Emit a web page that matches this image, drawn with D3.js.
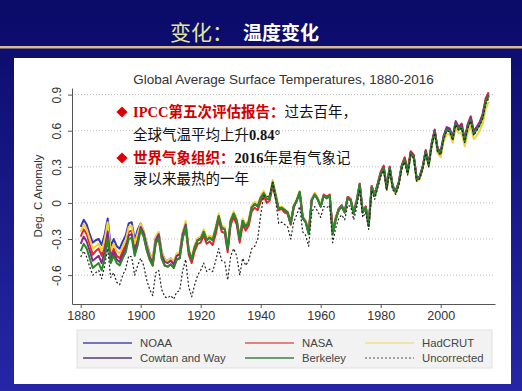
<!DOCTYPE html>
<html lang="zh">
<head>
<meta charset="UTF-8" />
<title>变化：温度变化</title>
<script src="https://d3js.org/d3.v7.min.js"></script>
<style>
  body { margin: 0; background: #0b0b6b; }
  svg text { font-family: "Liberation Sans", Arial, sans-serif; }
  .axis path, .axis line { stroke: #555; }
  .axis text { fill: #333; font-size: 12.5px; font-family: "Liberation Sans", Arial, sans-serif; }
  .grid { stroke: #bbb; stroke-dasharray: 1,2; }
  .legend-text { font-size: 11.3px; fill: #444; }
  .note { font-family: "Liberation Serif", "Noto Sans CJK SC", serif; font-size: 14.5px; }
</style>
</head>
<body>
<div id="chart"></div>
<script>
// years 1880-2016
const years = d3.range(1880, 2017);

// anomaly, deg C
const noaa = [
  -0.20,-0.14,-0.18,-0.26,-0.33,-0.31,-0.30,-0.35,-0.26,-0.13,
  -0.36,-0.30,-0.36,-0.38,-0.32,-0.27,-0.17,-0.16,-0.31,-0.22,
  -0.17,-0.24,-0.34,-0.42,-0.47,-0.29,-0.25,-0.41,-0.47,-0.48,
  -0.46,-0.49,-0.43,-0.42,-0.25,-0.17,-0.39,-0.46,-0.36,-0.30,
  -0.29,-0.23,-0.30,-0.28,-0.30,-0.21,-0.11,-0.20,-0.21,-0.37,
  -0.15,-0.09,-0.14,-0.29,-0.14,-0.19,-0.15,-0.03,-0.01,-0.02,
  0.04,0.07,0.03,0.04,0.15,0.05,-0.05,-0.04,-0.06,-0.09,
  -0.18,-0.03,0.02,0.09,-0.13,-0.16,-0.25,0.03,0.07,0.03,
  -0.03,0.06,0.05,0.06,-0.24,-0.13,-0.05,-0.02,-0.07,0.05,
  0.03,-0.08,0.02,0.16,-0.07,-0.03,-0.17,0.14,0.07,0.16,
  0.25,0.30,0.13,0.30,0.14,0.10,0.17,0.31,0.37,0.26,
  0.42,0.39,0.20,0.22,0.30,0.43,0.32,0.50,0.60,0.44,
  0.41,0.54,0.61,0.60,0.54,0.66,0.62,0.63,0.52,0.63,
  0.70,0.57,0.62,0.66,0.73,0.85,0.89
];
const nasa = [
  -0.28,-0.22,-0.26,-0.34,-0.43,-0.40,-0.38,-0.44,-0.34,-0.20,
  -0.44,-0.38,-0.44,-0.46,-0.40,-0.35,-0.24,-0.23,-0.38,-0.29,
  -0.22,-0.28,-0.39,-0.47,-0.52,-0.34,-0.29,-0.46,-0.52,-0.53,
  -0.51,-0.54,-0.47,-0.46,-0.29,-0.21,-0.43,-0.50,-0.40,-0.34,
  -0.33,-0.27,-0.34,-0.32,-0.35,-0.26,-0.14,-0.24,-0.25,-0.41,
  -0.18,-0.12,-0.18,-0.33,-0.18,-0.23,-0.19,-0.07,-0.04,-0.06,
  0.01,0.06,0.00,0.02,0.14,0.04,-0.06,-0.05,-0.08,-0.09,
  -0.18,-0.04,0.02,0.09,-0.12,-0.15,-0.24,0.03,0.08,0.04,
  -0.02,0.07,0.05,0.07,-0.23,-0.12,-0.05,-0.02,-0.07,0.05,
  0.03,-0.08,0.02,0.16,-0.07,-0.03,-0.17,0.14,0.07,0.16,
  0.26,0.31,0.13,0.30,0.14,0.10,0.17,0.31,0.38,0.27,
  0.43,0.40,0.20,0.22,0.30,0.44,0.33,0.49,0.61,0.44,
  0.42,0.55,0.62,0.61,0.54,0.67,0.63,0.66,0.53,0.65,
  0.72,0.60,0.63,0.67,0.74,0.87,0.92
];
const hadcrut = [
  -0.24,-0.18,-0.22,-0.30,-0.38,-0.36,-0.34,-0.40,-0.30,-0.16,
  -0.40,-0.34,-0.40,-0.42,-0.36,-0.31,-0.20,-0.19,-0.34,-0.25,
  -0.17,-0.23,-0.34,-0.42,-0.47,-0.28,-0.24,-0.41,-0.47,-0.48,
  -0.46,-0.49,-0.42,-0.41,-0.24,-0.15,-0.38,-0.45,-0.35,-0.29,
  -0.28,-0.22,-0.29,-0.27,-0.29,-0.20,-0.09,-0.19,-0.20,-0.36,
  -0.13,-0.07,-0.13,-0.28,-0.13,-0.18,-0.14,-0.02,0.01,-0.01,
  0.06,0.10,0.05,0.06,0.19,0.08,-0.04,-0.03,-0.05,-0.07,
  -0.16,-0.02,0.03,0.10,-0.11,-0.15,-0.25,0.03,0.08,0.04,
  -0.02,0.06,0.04,0.06,-0.25,-0.13,-0.06,-0.03,-0.08,0.04,
  0.02,-0.09,0.01,0.15,-0.08,-0.04,-0.19,0.13,0.06,0.14,
  0.23,0.28,0.11,0.28,0.12,0.08,0.15,0.29,0.35,0.24,
  0.40,0.37,0.18,0.20,0.28,0.41,0.30,0.48,0.58,0.41,
  0.38,0.51,0.57,0.57,0.50,0.62,0.58,0.58,0.47,0.58,
  0.64,0.53,0.56,0.60,0.66,0.78,0.84
];
const cowtan = [
  -0.34,-0.28,-0.32,-0.40,-0.48,-0.46,-0.44,-0.50,-0.40,-0.24,
  -0.47,-0.41,-0.47,-0.49,-0.43,-0.38,-0.27,-0.26,-0.41,-0.32,
  -0.20,-0.25,-0.36,-0.45,-0.50,-0.31,-0.26,-0.43,-0.49,-0.50,
  -0.48,-0.51,-0.44,-0.43,-0.26,-0.18,-0.40,-0.47,-0.37,-0.31,
  -0.30,-0.24,-0.31,-0.29,-0.31,-0.22,-0.11,-0.21,-0.22,-0.38,
  -0.15,-0.09,-0.15,-0.30,-0.15,-0.20,-0.16,-0.04,-0.01,-0.03,
  0.04,0.08,0.03,0.04,0.17,0.06,-0.05,-0.04,-0.06,-0.08,
  -0.16,-0.03,0.02,0.09,-0.12,-0.16,-0.25,0.02,0.07,0.03,
  -0.03,0.06,0.04,0.06,-0.25,-0.14,-0.06,-0.03,-0.08,0.04,
  0.02,-0.09,0.01,0.15,-0.08,-0.04,-0.19,0.13,0.06,0.15,
  0.24,0.29,0.12,0.29,0.13,0.09,0.16,0.30,0.36,0.25,
  0.42,0.39,0.20,0.22,0.30,0.43,0.32,0.49,0.60,0.45,
  0.43,0.56,0.63,0.62,0.55,0.68,0.63,0.65,0.53,0.65,
  0.71,0.59,0.63,0.67,0.73,0.85,0.90
];
const berkeley = [
  -0.40,-0.34,-0.38,-0.46,-0.54,-0.52,-0.50,-0.56,-0.46,-0.30,
  -0.50,-0.44,-0.50,-0.52,-0.46,-0.41,-0.30,-0.29,-0.44,-0.35,
  -0.22,-0.28,-0.39,-0.47,-0.52,-0.33,-0.29,-0.46,-0.52,-0.53,
  -0.51,-0.54,-0.47,-0.46,-0.29,-0.20,-0.40,-0.47,-0.37,-0.31,
  -0.30,-0.24,-0.31,-0.29,-0.31,-0.22,-0.11,-0.21,-0.22,-0.38,
  -0.15,-0.09,-0.15,-0.30,-0.15,-0.20,-0.16,-0.04,-0.01,-0.03,
  0.04,0.08,0.03,0.04,0.17,0.06,-0.05,-0.04,-0.06,-0.08,
  -0.17,-0.03,0.02,0.09,-0.12,-0.16,-0.26,0.02,0.07,0.03,
  -0.03,0.06,0.04,0.06,-0.26,-0.14,-0.06,-0.03,-0.08,0.04,
  0.02,-0.09,0.01,0.15,-0.08,-0.04,-0.19,0.13,0.06,0.15,
  0.24,0.29,0.12,0.29,0.13,0.09,0.16,0.30,0.36,0.25,
  0.41,0.38,0.19,0.21,0.29,0.42,0.31,0.48,0.59,0.43,
  0.41,0.54,0.61,0.60,0.53,0.66,0.61,0.63,0.51,0.63,
  0.69,0.57,0.61,0.65,0.71,0.84,0.89
];
const uncorrected = [
  -0.45,-0.40,-0.45,-0.53,-0.60,-0.58,-0.56,-0.63,-0.52,-0.38,
  -0.62,-0.58,-0.66,-0.68,-0.60,-0.55,-0.44,-0.45,-0.60,-0.52,
  -0.46,-0.52,-0.64,-0.72,-0.77,-0.58,-0.56,-0.72,-0.78,-0.79,
  -0.77,-0.80,-0.74,-0.73,-0.56,-0.47,-0.70,-0.78,-0.68,-0.60,
  -0.56,-0.50,-0.57,-0.55,-0.57,-0.48,-0.38,-0.48,-0.49,-0.64,
  -0.44,-0.38,-0.44,-0.60,-0.46,-0.52,-0.48,-0.38,-0.36,-0.30,
  -0.10,0.06,0.05,0.06,0.17,0.02,-0.17,-0.16,-0.18,-0.20,
  -0.30,-0.16,-0.10,-0.03,-0.24,-0.27,-0.36,-0.08,-0.03,-0.07,
  -0.12,-0.03,-0.04,-0.02,-0.33,-0.21,-0.13,-0.10,-0.14,-0.02,
  -0.03,-0.14,-0.04,0.11,-0.12,-0.08,-0.22,0.10,0.03,0.12,
  0.22,0.27,0.10,0.27,0.11,0.07,0.14,0.28,0.34,0.23,
  0.40,0.37,0.18,0.20,0.28,0.41,0.30,0.47,0.58,0.42,
  0.40,0.53,0.60,0.59,0.52,0.65,0.60,0.62,0.50,0.62,
  0.68,0.56,0.60,0.64,0.70,0.82,0.87
];

const seriesNames = ["NOAA", "NASA", "HadCRUT", "Cowtan and Way", "Berkeley", "Uncorrected"];
const yTicks = [-0.6, -0.3, 0, 0.3, 0.6, 0.9];
const xTicks = [1880, 1900, 1920, 1940, 1960, 1980, 2000];

const width = 522, height = 391;

const series = [
  { name: "NOAA", values: noaa, color: "#3535b8", legend: "#4a4aa8" },
  { name: "NASA", values: nasa, color: "#e02828", legend: "#e05a5a" },
  { name: "HadCRUT", values: hadcrut, color: "#f2d23a", legend: "#f0e08a" },
  { name: "Cowtan and Way", values: cowtan, color: "#85288f", legend: "#5a3a70" },
  { name: "Berkeley", values: berkeley, color: "#2a8a2a", legend: "#3f7f45" },
  { name: "Uncorrected", values: uncorrected, color: "#222", legend: "#555", dash: "2,2" }
];

const svg = d3.select("#chart").append("svg")
  .attr("width", width)
  .attr("height", height);

// background
const grad = svg.append("defs").append("linearGradient")
  .attr("id", "bg").attr("x1", 0).attr("y1", 0).attr("x2", 0).attr("y2", 1);
grad.append("stop").attr("offset", "0%").attr("stop-color", "#0a0a68");
grad.append("stop").attr("offset", "100%").attr("stop-color", "#2626a6");
svg.append("rect").attr("width", width).attr("height", height).attr("fill", "url(#bg)");

// slide title
svg.append("text")
  .attr("x", 170).attr("y", 40)
  .style("font-family", "'Noto Sans CJK SC'")
  .style("font-size", "21px")
  .attr("fill", "#e6e49c")
  .text("变化：");
svg.append("text")
  .attr("x", 243).attr("y", 40)
  .style("font-family", "'Noto Sans CJK SC'")
  .style("font-size", "19px")
  .style("font-weight", "bold")
  .attr("fill", "#fff")
  .text("温度变化");

svg.append("rect").attr("x", 0).attr("y", 46).attr("width", width).attr("height", 2.5).attr("fill", "#d8ba8c");

// white panel
svg.append("rect").attr("x", 14).attr("y", 58).attr("width", 497).attr("height", 326).attr("fill", "#fff");

// scales
const x = d3.scaleLinear().domain([1877.1, 2018.1]).range([72, 495]);
const y = d3.scaleLinear().domain([-0.84, 0.955]).range([304, 88]);

// chart title
svg.append("text")
  .attr("x", 283.5).attr("y", 84)
  .attr("text-anchor", "middle")
  .style("font-size", "13.5px")
  .attr("fill", "#333")
  .text("Global Average Surface Temperatures, 1880-2016");

// grid
svg.append("g").selectAll("line")
  .data(yTicks)
  .enter().append("line")
  .attr("class", "grid")
  .attr("x1", 72).attr("x2", 495)
  .attr("y1", d => y(d)).attr("y2", d => y(d));

// axes
const yAxis = svg.append("g")
  .attr("class", "axis")
  .attr("transform", "translate(72,0)")
  .call(d3.axisLeft(y).tickValues(yTicks).tickSize(4).tickSizeOuter(0)
    .tickFormat(d => d === 0 ? "0" : d.toFixed(1)));
yAxis.selectAll("text")
  .attr("x", 0).attr("dy", 0)
  .attr("text-anchor", "middle")
  .attr("transform", "translate(-11,0) rotate(-90)")
  .style("font-size", "12px");

svg.append("g")
  .attr("class", "axis")
  .attr("transform", "translate(0,304)")
  .call(d3.axisBottom(x).tickValues(xTicks).tickSize(4).tickSizeOuter(0).tickFormat(d3.format("d")));

svg.append("text")
  .attr("transform", "translate(42,196) rotate(-90)")
  .attr("text-anchor", "middle")
  .style("font-size", "11.5px")
  .attr("fill", "#333")
  .text("Deg. C Anomaly");

// lines
const line = d3.line()
  .x((d, i) => x(years[i]))
  .y(d => y(d));

svg.append("g").selectAll("path")
  .data(series)
  .enter().append("path")
  .attr("d", d => line(d.values))
  .attr("fill", "none")
  .attr("stroke", d => d.color)
  .attr("stroke-width", d => d.dash ? 1.2 : 2)
  .attr("stroke-dasharray", d => d.dash || null)
  .attr("stroke-linejoin", "round");

// annotation
const notes = [
  { y: 117, bullet: true, parts: [["IPCC第五次评估报告：", "#d00000", "bold"], ["过去百年，", "#111", "normal"]] },
  { y: 139.5, bullet: false, parts: [["全球气温平均上升", "#111", "normal"], ["0.84°", "#111", "bold"]] },
  { y: 163, bullet: true, parts: [["世界气象组织：", "#d00000", "bold"], ["2016", "#111", "bold"], ["年是有气象记", "#111", "normal"]] },
  { y: 184, bullet: false, parts: [["录以来最热的一年", "#111", "normal"]] }
];

const noteG = svg.append("g");
notes.forEach(n => {
  if (n.bullet) {
    noteG.append("path")
      .attr("d", d3.symbol().type(d3.symbolDiamond2).size(80))
      .attr("transform", `translate(122,${n.y - 5})`)
      .attr("fill", "#e00000");
  }
  const t = noteG.append("text")
    .attr("class", "note")
    .attr("x", 133).attr("y", n.y);
  n.parts.forEach(p => {
    t.append("tspan").attr("fill", p[1]).style("font-weight", p[2]).text(p[0]);
  });
});

// legend
const legendPos = [[83, 343], [245, 343], [365, 343], [83, 358], [245, 358], [365, 358]];
const legend = svg.append("g");
legend.append("rect")
  .attr("x", 77).attr("y", 330).attr("width", 415).attr("height", 38)
  .attr("fill", "#f2f2f2").attr("stroke", "#e2e2e2");

const items = legend.selectAll(".legend-item")
  .data(series)
  .enter().append("g")
  .attr("class", "legend-item")
  .attr("transform", (d, i) => `translate(${legendPos[i][0]},${legendPos[i][1]})`);

items.append("line")
  .attr("x1", 0).attr("x2", 49)
  .attr("stroke", d => d.legend)
  .attr("stroke-width", d => d.dash ? 1 : 1.6)
  .attr("stroke-dasharray", d => d.dash || null);

items.append("text")
  .attr("class", "legend-text")
  .attr("x", 57).attr("y", 4)
  .text((d, i) => seriesNames[i]);
</script>
</body>
</html>
